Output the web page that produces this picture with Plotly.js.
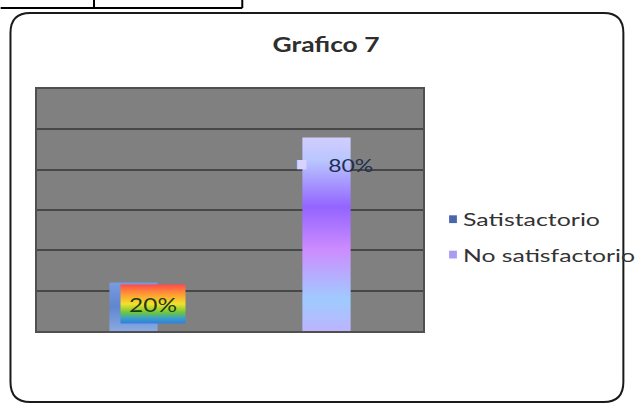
<!DOCTYPE html>
<html>
<head>
<meta charset="utf-8">
<script src="https://cdn.plot.ly/plotly-3.0.1.min.js"></script>
<style>
  html, body { margin: 0; padding: 0; background: #ffffff; }
  #chart { width: 636px; height: 404px; }
</style>
</head>
<body>
<div id="chart"></div>
<script>
// ---- data ----
const categories = ["Satistactorio", "No satisfactorio"];
const values = [0.20, 0.80];
const valueLabels = ["20%", "80%"];
const seriesColors = ["#4a65ab", "#a99cf2"];
const chartTitle = "Grafico 7";

const FONT = "Lato, 'Open Sans', 'DejaVu Sans', sans-serif";

const traces = categories.map((c, i) => ({
  type: "bar",
  x: [c],
  y: [values[i]],
  name: c,
  legendgroup: "g" + i,
  width: 0.25,
  marker: { color: seriesColors[i], line: { width: 0 } },
  hoverinfo: "skip"
}));

// frame geometry in paper units (plot area: x 37..430, y 89..331 px)
const fx0 = -0.0687, fx1 = 1.5191, fy0 = -0.2934, fy1 = 1.3140, rx = 0.0509, ry = 0.0826;
const framePath =
  `M${fx0 + rx},${fy1} L${fx1 - rx},${fy1} Q${fx1},${fy1} ${fx1},${fy1 - ry} ` +
  `L${fx1},${fy0 + ry} Q${fx1},${fy0} ${fx1 - rx},${fy0} ` +
  `L${fx0 + rx},${fy0} Q${fx0},${fy0} ${fx0},${fy0 + ry} ` +
  `L${fx0},${fy1 - ry} Q${fx0},${fy1} ${fx0 + rx},${fy1} Z`;

const layout = {
  width: 636,
  height: 404,
  margin: { l: 37, r: 206, t: 89, b: 73 },
  paper_bgcolor: "#ffffff",
  plot_bgcolor: "#808080",
  barmode: "overlay",
  showlegend: true,
  font: { family: FONT, color: "#333333" },
  title: {
    text: "<b>" + chartTitle + "</b>",
    font: { family: FONT, size: 21, color: "#2e2e2e" },
    x: 326 / 636, xref: "container", xanchor: "center",
    y: 1 - 45 / 404, yref: "container", yanchor: "middle"
  },
  xaxis: {
    type: "category",
    range: [-0.5, 1.5],
    showticklabels: false,
    ticks: "",
    showgrid: false,
    zeroline: false,
    showline: true, mirror: true, linecolor: "#505050", linewidth: 2
  },
  yaxis: {
    range: [0, 1],
    tick0: 0,
    dtick: 1 / 6,
    showticklabels: false,
    ticks: "",
    showgrid: true, gridcolor: "#474747", gridwidth: 2,
    zeroline: false,
    showline: true, mirror: true, linecolor: "#505050", linewidth: 2
  },
  legend: {
    xref: "container", yref: "container",
    x: 423 / 636, xanchor: "left",
    y: 1 - 201 / 404, yanchor: "top",
    font: { family: FONT, size: 18, color: "#333333" },
    tracegroupgap: 9,
    bgcolor: "rgba(0,0,0,0)"
  },
  annotations: [
    {
      x: categories[0], y: values[0], xref: "x", yref: "y",
      text: valueLabels[0], showarrow: false,
      xanchor: "center", yanchor: "top", xshift: 19, yshift: -1,
      width: 60, height: 34, borderpad: 2,
      bgcolor: "#f0c020",
      font: { family: FONT, size: 19, color: "#1d3a12" }
    },
    {
      x: categories[1], y: values[1], xref: "x", yref: "y",
      text: valueLabels[1], showarrow: false,
      xanchor: "center", yanchor: "middle", xshift: 24, yshift: -28,
      font: { family: FONT, size: 18, color: "#1f2f50" }
    },
    {
      x: categories[1], y: values[1], xref: "x", yref: "y",
      text: "■", showarrow: false,
      xanchor: "center", yanchor: "middle", xshift: -25, yshift: -26,
      font: { family: FONT, size: 12, color: "#d6d4ff" }
    }
  ],
  shapes: [
    { type: "path", xref: "paper", yref: "paper", path: framePath,
      line: { color: "#1a1a1a", width: 2 }, fillcolor: "rgba(0,0,0,0)", layer: "above" },
    // table fragment at the top edge
    { type: "line", xref: "paper", yref: "paper", x0: -0.0941, x1: 0.5318, y0: 1.3347, y1: 1.3347,
      line: { color: "#000000", width: 2 } },
    { type: "line", xref: "paper", yref: "paper", x0: 0.1476, x1: 0.1476, y0: 1.3347, y1: 1.37,
      line: { color: "#000000", width: 2 } },
    { type: "line", xref: "paper", yref: "paper", x0: 0.5318, x1: 0.5318, y0: 1.3347, y1: 1.37,
      line: { color: "#000000", width: 2 } }
  ]
};

function makeGrad(svg, id, stops) {
  const NS = "http://www.w3.org/2000/svg";
  let defs = svg.querySelector("defs");
  if (!defs) { defs = document.createElementNS(NS, "defs"); svg.insertBefore(defs, svg.firstChild); }
  const g = document.createElementNS(NS, "linearGradient");
  g.setAttribute("id", id);
  g.setAttribute("x1", "0"); g.setAttribute("y1", "0");
  g.setAttribute("x2", "0"); g.setAttribute("y2", "1");
  stops.forEach(([off, col]) => {
    const s = document.createElementNS(NS, "stop");
    s.setAttribute("offset", off);
    s.setAttribute("stop-color", col);
    g.appendChild(s);
  });
  defs.appendChild(g);
}

function stretch(el, len) {
  if (!el) return;
  el.setAttribute("textLength", len);
  el.setAttribute("lengthAdjust", "spacingAndGlyphs");
}

Plotly.newPlot("chart", traces, layout, { displayModeBar: false, staticPlot: true }).then(gd => {
  const svg = gd.querySelector(".main-svg");
  makeGrad(svg, "gradBar2", [
    ["0", "#d2cdff"], ["0.12", "#b9c6ff"], ["0.36", "#9364ff"],
    ["0.58", "#cd8cff"], ["0.84", "#9fcbff"], ["1", "#bcb4ff"]
  ]);
  makeGrad(svg, "gradRainbow", [
    ["0", "#ff4a4a"], ["0.25", "#ff9a34"], ["0.5", "#f2e12a"],
    ["0.72", "#6cc63c"], ["0.86", "#3aa0c8"], ["1", "#2f7fe0"]
  ]);
  makeGrad(svg, "gradBar1", [
    ["0", "#7a9be0"], ["0.5", "#5f86cf"], ["1", "#8aa9e0"]
  ]);
  const barTraces = gd.querySelectorAll(".barlayer .trace");
  if (barTraces[1]) barTraces[1].querySelectorAll("path").forEach(p => { p.style.fill = "url(#gradBar2)"; });
  if (barTraces[0]) barTraces[0].querySelectorAll("path").forEach(p => { p.style.fill = "url(#gradBar1)"; });
  const ann = gd.querySelectorAll(".annotation");
  if (ann[0]) { const r = ann[0].querySelector("rect.bg"); if (r) r.style.fill = "url(#gradRainbow)"; }

  // text widths of the reference (its text is horizontally stretched)
  stretch(gd.querySelector(".gtitle"), 107);
  const legTexts = gd.querySelectorAll(".legendtext");
  stretch(legTexts[0], 137);
  stretch(legTexts[1], 172);
  if (ann[0]) stretch(ann[0].querySelector("text.annotation-text"), 48);
  if (ann[1]) stretch(ann[1].querySelector("text.annotation-text"), 45);

  // let the stretched legend text show in full
  gd.querySelectorAll(".legend [clip-path]").forEach(e => e.removeAttribute("clip-path"));

  // smaller legend keys, closer to their text
  gd.querySelectorAll(".legendpoints path").forEach(p => {
    p.setAttribute("transform", "translate(30,0) scale(0.65)");
  });
});
</script>
</body>
</html>
